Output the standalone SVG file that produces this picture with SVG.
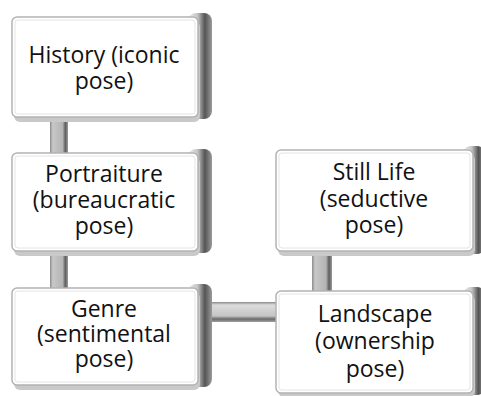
<svg xmlns="http://www.w3.org/2000/svg" width="481" height="396" viewBox="0 0 481 396">
  <defs>
    <linearGradient id="sideGrad" x1="0" y1="0" x2="1" y2="0">
      <stop offset="0" stop-color="#f2f2f2"/>
      <stop offset="0.4" stop-color="#c4c4c4"/>
      <stop offset="0.7" stop-color="#555555"/>
      <stop offset="1" stop-color="#9a9a9a"/>
    </linearGradient>
    <linearGradient id="vbar" x1="0" y1="0" x2="1" y2="0">
      <stop offset="0" stop-color="#8a8a8a"/>
      <stop offset="0.15" stop-color="#c8c8c8"/>
      <stop offset="0.7" stop-color="#b4b4b4"/>
      <stop offset="0.85" stop-color="#5e5e5e"/>
      <stop offset="1" stop-color="#9a9a9a"/>
    </linearGradient>
    <linearGradient id="hbar" x1="0" y1="0" x2="0" y2="1">
      <stop offset="0" stop-color="#8a8a8a"/>
      <stop offset="0.15" stop-color="#dcdcdc"/>
      <stop offset="0.7" stop-color="#c4c4c4"/>
      <stop offset="0.85" stop-color="#6a6a6a"/>
      <stop offset="1" stop-color="#a0a0a0"/>
    </linearGradient>
  </defs>
  <style>
    .side { fill: url(#sideGrad); }
    .bottom { fill: #c9c9c9; }
    .face { fill: #ffffff; stroke: #b3b3b3; stroke-width: 1.5; }
    .inner { fill: none; stroke: #e4e4e4; stroke-width: 1; }
    .vbar { fill: url(#vbar); }
    .hbar { fill: url(#hbar); }
    text { font-family: "Open Sans", "Noto Sans", "Liberation Sans", sans-serif; font-size: 23px; fill: #111111; text-anchor: middle; }
  </style>
  <rect width="481" height="396" fill="#ffffff"/>
  <g id="connectors">
    <rect class="vbar" x="50" y="115" width="18" height="40"/>
    <rect class="vbar" x="50" y="248" width="18" height="42"/>
    <rect class="vbar" x="312" y="250" width="20" height="42"/>
    <rect class="hbar" x="205" y="302" width="75" height="20"/>
  </g>
  <g id="history" transform="translate(12,17)">
    <rect class="side" x="176" y="-4" width="24" height="106" rx="8"/>
    <rect class="bottom" x="2" y="4" width="186" height="101" rx="6"/>
    <rect class="face" x="0" y="0" width="186" height="100" rx="5"/>
    <rect class="inner" x="3" y="3" width="180" height="94" rx="3"/>
    <text x="92" y="46">History (iconic</text>
    <text x="92" y="72">pose)</text>
  </g>
  <g id="portraiture" transform="translate(12,153)">
    <rect class="side" x="176" y="-4" width="24" height="104" rx="8"/>
    <rect class="bottom" x="2" y="4" width="186" height="99" rx="6"/>
    <rect class="face" x="0" y="0" width="186" height="98" rx="5"/>
    <rect class="inner" x="3" y="3" width="180" height="92" rx="3"/>
    <text x="92" y="29">Portraiture</text>
    <text x="92" y="55">(bureaucratic</text>
    <text x="92" y="81">pose)</text>
  </g>
  <g id="genre" transform="translate(12,288)">
    <rect class="side" x="176" y="-4" width="24" height="103" rx="8"/>
    <rect class="bottom" x="2" y="4" width="186" height="98" rx="6"/>
    <rect class="face" x="0" y="0" width="186" height="97" rx="5"/>
    <rect class="inner" x="3" y="3" width="180" height="91" rx="3"/>
    <text x="92" y="29">Genre</text>
    <text x="92" y="54">(sentimental</text>
    <text x="92" y="79">pose)</text>
  </g>
  <g id="still-life" transform="translate(276,150)">
    <rect class="side" x="187" y="-4" width="22" height="108" rx="8"/>
    <rect class="bottom" x="2" y="4" width="197" height="102" rx="6"/>
    <rect class="face" x="0" y="0" width="197" height="101" rx="5"/>
    <rect class="inner" x="3" y="3" width="191" height="95" rx="3"/>
    <text x="98" y="30">Still Life</text>
    <text x="98" y="57">(seductive</text>
    <text x="98" y="83">pose)</text>
  </g>
  <g id="landscape" transform="translate(276,291)">
    <rect class="side" x="187" y="-4" width="22" height="108" rx="8"/>
    <rect class="bottom" x="2" y="4" width="197" height="102" rx="6"/>
    <rect class="face" x="0" y="0" width="197" height="102" rx="5"/>
    <rect class="inner" x="3" y="3" width="191" height="96" rx="3"/>
    <text x="99" y="31">Landscape</text>
    <text x="99" y="58">(ownership</text>
    <text x="99" y="86">pose)</text>
  </g>
</svg>
